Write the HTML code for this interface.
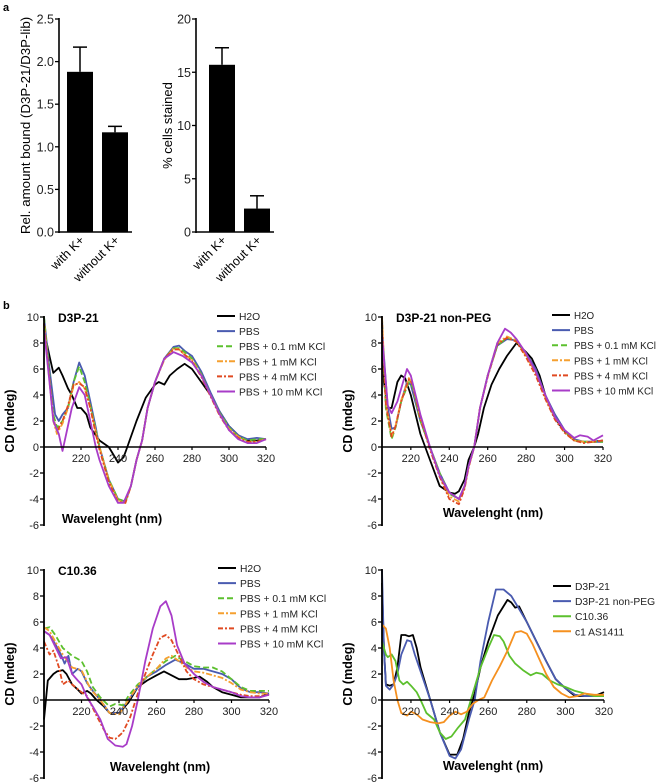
<!DOCTYPE html>
<html><head><meta charset="utf-8"><style>
body{margin:0;background:#fff;}
svg{display:block;font-family:"Liberation Sans",Arial,sans-serif;}
</style></head><body>
<svg id="fig" width="658" height="783" viewBox="0 0 658 783"></svg>
<script>
// ---------- bar chart data ----------
const barCats = ["with K+","without K+"];
const bar1Vals = [1.88, 1.17];
const bar1Errs = [0.29, 0.07];
const bar1Ticks = ["0.0","0.5","1.0","1.5","2.0","2.5"];
const bar2Vals = [15.7, 2.2];
const bar2Errs = [1.6, 1.2];
const bar2Ticks = ["0","5","10","15","20"];
const cdTicksY = [-6,-4,-2,0,2,4,6,8,10];
const cdTicksX = [220,240,260,280,300,320];

// ---------- CD panel 1 (D3P-21) ----------
const p1H2O=[[200,9],[203,7],[205,5.7],[208,6.1],[210,5.5],[213,4.5],[215,4],[218,3],[220,3],[223,2.5],[225,1.5],[230,0.5],[235,0],[238,-0.7],[240,-1.2],[243,-0.8],[245,0],[250,2],[255,3.8],[260,4.8],[262,5],[265,4.8],[268,5.5],[272,6],[276,6.4],[280,6],[285,5],[290,4],[295,2.7],[300,1.6],[305,0.9],[310,0.5],[315,0.5],[320,0.6]];
const p1PBS=[[200,10],[203,6],[206,2.5],[208,2],[210,2.5],[213,3],[216,5],[219,6.5],[222,5.5],[225,3.5],[228,1.5],[230,0],[235,-2.5],[240,-4],[244,-4.2],[247,-3],[250,-1],[253,0.5],[256,3],[260,5],[265,6.8],[270,7.7],[273,7.8],[276,7.4],[280,7],[285,5.8],[290,4.2],[295,2.7],[300,1.6],[305,0.9],[310,0.6],[315,0.7],[320,0.6]];
const p1K01=[[200,10],[203,5.5],[205,2.5],[207,1.5],[210,2],[213,3],[216,5],[219,6.2],[222,5],[225,3.2],[228,1.3],[230,0],[235,-2.5],[240,-4],[244,-4.2],[247,-3],[250,-1],[253,0.5],[256,3],[260,5],[265,6.8],[270,7.6],[273,7.6],[276,7.3],[280,6.8],[285,5.6],[290,4],[295,2.6],[300,1.5],[305,0.8],[310,0.5],[315,0.6],[320,0.6]];
const p1K1=[[200,9.5],[203,5],[205,2],[207,1],[210,1.8],[213,3],[216,4.7],[219,5],[222,4.5],[225,3],[228,1.2],[230,0],[235,-2.6],[240,-4.1],[244,-4.3],[247,-3],[250,-1],[253,0.5],[256,3],[260,5],[265,6.7],[270,7.6],[273,7.5],[276,7.1],[280,6.7],[285,5.5],[290,4],[295,2.5],[300,1.4],[305,0.8],[310,0.4],[315,0.4],[320,0.6]];
const p1K4=[[200,9.5],[203,5.2],[205,2.2],[207,1.2],[210,2],[213,3.2],[216,4.8],[219,4.9],[222,4.6],[225,3],[228,1],[230,-0.2],[235,-2.7],[240,-4.2],[244,-4.3],[247,-3],[250,-1],[253,0.5],[256,3],[260,5],[265,6.8],[270,7.5],[273,7.5],[276,7.1],[280,6.6],[285,5.4],[290,3.9],[295,2.4],[300,1.3],[305,0.7],[310,0.4],[315,0.4],[320,0.6]];
const p1K10=[[200,9],[203,5],[205,2],[208,1],[210,-0.3],[212,1],[215,3],[219,4.6],[222,4],[225,2],[228,0],[230,-1],[235,-3],[240,-4.3],[243,-4.3],[247,-3],[250,-1],[253,0.5],[256,3],[260,5],[265,6.8],[270,7.3],[275,7],[280,6.5],[285,5.5],[290,4],[295,2.5],[300,1.3],[305,0.6],[310,0.3],[315,0.3],[320,0.6]];

// ---------- CD panel 2 (D3P-21 non-PEG) ----------
const p2H2O=[[205,10],[206,5],[208,3],[210,3],[213,5],[215,5.5],[217,5.3],[220,4],[225,1],[230,-1],[235,-3],[240,-3.5],[243,-3.6],[245,-3.4],[248,-2.5],[250,-1],[253,0],[255,1],[258,3],[262,4.8],[266,6],[270,7],[275,8],[280,7.3],[283,6.8],[287,5.5],[290,4],[295,2.2],[300,1.2],[305,0.5],[310,0.4],[315,0.4],[320,0.5]];
const p2PBS=[[205,9],[208,3],[210,1.4],[212,1.5],[215,3.5],[218,5],[220,4.8],[225,2],[230,0],[235,-2],[240,-3.5],[245,-4],[248,-3],[250,-1.5],[253,0],[256,3],[260,5.5],[265,7.8],[270,8.3],[275,8.2],[280,7.2],[285,6],[290,4],[295,2.5],[300,1.3],[305,0.6],[310,0.4],[315,0.4],[320,0.4]];
const p2K01=[[205,9.5],[207,3],[210,0.6],[212,1.5],[215,3.5],[219,5],[221,4.6],[225,2],[230,0],[235,-2],[240,-3.6],[245,-4],[248,-3],[250,-1.5],[253,0],[256,3],[260,5.5],[265,7.8],[270,8.4],[275,8.2],[280,7.1],[285,5.8],[290,3.9],[295,2.3],[300,1.2],[305,0.5],[310,0.4],[315,0.4],[320,0.4]];
const p2K1=[[205,10],[207,3.5],[210,0.8],[212,1.6],[215,3.6],[219,5.3],[221,4.8],[225,2.2],[230,0],[235,-2.2],[240,-3.8],[245,-4.2],[248,-3.1],[250,-1.6],[253,0],[256,3],[260,5.5],[265,8],[270,8.5],[275,8.2],[280,7],[285,5.7],[290,3.8],[295,2.2],[300,1.1],[305,0.5],[310,0.4],[315,0.4],[320,0.5]];
const p2K4=[[205,9.5],[207,3.3],[210,0.8],[212,1.6],[215,3.5],[219,5.2],[221,4.8],[225,2.2],[230,-0.2],[235,-2.3],[240,-4],[245,-4.4],[248,-3.2],[250,-1.6],[253,0],[256,3],[260,5.4],[265,7.9],[270,8.4],[275,8.1],[280,6.9],[285,5.5],[290,3.7],[295,2.1],[300,1.1],[305,0.5],[310,0.3],[315,0.4],[320,0.5]];
const p2K10=[[205,8.5],[208,3.2],[210,2.6],[213,3.5],[216,5],[218,6],[220,5.5],[225,2.5],[230,0],[235,-2.2],[240,-3.5],[245,-4],[248,-3],[250,-1.5],[253,0],[256,3],[260,5.5],[265,8],[269,9.1],[272,8.8],[275,8.3],[280,7.2],[285,5.8],[290,4],[295,2.3],[300,1.3],[305,0.7],[308,0.9],[312,0.8],[315,0.5],[320,0.9]];

// ---------- CD panel 3 (C10.36) ----------
const p3H2O=[[200,-1.5],[202,1.5],[205,2],[207,2.2],[210,2.3],[212,2],[215,1.2],[218,0.8],[220,0.5],[223,0.7],[225,0.5],[228,0],[232,-0.5],[235,-1],[240,-1],[245,-0.2],[250,1],[255,1.5],[260,1.9],[264,2.2],[268,1.9],[272,1.6],[276,1.6],[280,1.7],[283,1.8],[287,1.4],[290,1],[295,0.6],[300,0.4],[305,0.2],[310,0.2],[315,0.2],[320,0.5]];
const p3PBS=[[200,5.3],[203,5],[206,4.3],[209,3.5],[211,2.8],[213,3.4],[215,2],[218,2.4],[220,2.2],[223,1.3],[226,0.7],[230,0],[235,-1],[240,-1],[245,0],[250,1],[255,1.8],[260,2.2],[265,2.7],[270,3.1],[275,2.8],[280,2.4],[285,2.4],[290,2.2],[295,2],[300,1.6],[305,0.9],[310,0.6],[315,0.6],[320,0.5]];
const p3K01=[[200,5.5],[203,5.6],[206,5],[210,4],[215,3.4],[220,3],[223,2.2],[226,1],[230,0.2],[235,-0.5],[238,-0.3],[242,-0.4],[245,0.3],[250,1.2],[255,1.8],[260,2.4],[265,3],[270,3.4],[275,3],[280,2.6],[285,2.5],[290,2.5],[295,2.2],[300,1.6],[305,1],[310,0.7],[315,0.7],[320,0.7]];
const p3K1=[[200,5.6],[203,5.3],[206,4.5],[210,3.5],[215,2.5],[220,2.3],[225,0.8],[230,0],[235,-1],[240,-1.1],[245,0],[250,1.1],[255,1.8],[260,2.4],[265,3.2],[268,3.4],[272,3],[276,2.5],[280,2.2],[285,2.1],[290,1.9],[295,1.7],[300,1.3],[305,0.8],[310,0.6],[315,0.5],[320,0.5]];
const p3K4=[[200,4.5],[203,3.5],[205,3.8],[208,2.5],[210,1.2],[213,1.5],[215,1.2],[220,0.6],[223,0.3],[228,-1.2],[232,-2.3],[235,-2.9],[238,-3],[242,-2.5],[246,-1.3],[250,0.5],[254,2],[258,3.5],[262,4.8],[265,5],[268,4.6],[272,3.4],[276,2.2],[280,1.6],[285,1.2],[290,1],[295,0.8],[300,0.6],[305,0.4],[310,0.3],[315,0.3],[320,0.4]];
const p3K10=[[200,5.3],[203,5],[206,4.1],[209,3.2],[212,3.3],[215,2],[218,1.5],[220,1.2],[223,0.2],[226,-0.5],[230,-1.5],[234,-3],[238,-3.5],[242,-3.6],[244,-3.4],[247,-2],[250,0],[254,3],[258,5.5],[262,7.2],[265,7.6],[268,6.5],[271,4.2],[275,2.8],[280,2],[285,1.4],[290,1],[295,0.8],[300,0.6],[305,0.3],[310,0.2],[315,0.2],[320,0.4]];

// ---------- CD panel 4 (comparison) ----------
const p4D3P=[[205,9],[206,4],[207,1.2],[209,1.1],[211,1.2],[213,2.5],[215,5],[217,5],[219,4.9],[221,5],[223,4],[225,2.5],[228,1],[230,0],[235,-2.5],[240,-4.2],[244,-4.2],[247,-3],[250,-1],[253,0.5],[256,2.5],[260,4.5],[265,6.5],[270,7.7],[272,7.5],[274,7.1],[276,7.2],[280,6],[285,4.5],[290,3],[295,1.6],[300,0.9],[305,0.3],[310,0.3],[315,0.3],[320,0.6]];
const p4NonPEG=[[205,10],[206,4],[207,1.1],[209,0.8],[211,1.2],[213,2],[215,3.5],[218,4.6],[220,4.5],[222,3.5],[225,2.2],[230,0],[235,-2.5],[240,-4.3],[243,-4.5],[246,-3.8],[250,-1.5],[253,0],[256,3],[260,6],[264,8.5],[268,8.5],[272,8],[276,7],[280,6],[285,4.5],[290,3],[295,1.6],[300,0.9],[305,0.4],[310,0.3],[315,0.3],[320,0.3]];
const p4C1036=[[205,4.5],[207,3.5],[208,3.3],[210,3.5],[212,3],[214,1.5],[216,1.2],[218,1.4],[220,1.1],[223,0.6],[225,0],[228,-1],[232,-1.5],[235,-2.5],[238,-3],[241,-2.8],[244,-2.2],[248,-1.5],[250,-0.5],[253,1],[256,2.5],[260,4],[263,5],[266,4.9],[268,4.5],[271,3.4],[274,2.8],[278,2.3],[282,1.9],[285,2.1],[288,2],[292,1.5],[296,1.2],[300,1],[305,0.7],[310,0.5],[315,0.3],[320,0.3]];
const p4AS1411=[[205,5.8],[207,5.5],[209,4],[211,1.5],[213,0],[215,-1],[218,-1.2],[220,-0.9],[223,-1.1],[226,-1.5],[230,-1.7],[234,-1.8],[237,-1.7],[240,-1.2],[243,-0.9],[246,-1.1],[249,-0.9],[252,-0.3],[255,0],[258,0.2],[262,1.5],[266,2.6],[270,3.8],[274,5.2],[277,5.3],[280,5.1],[283,4.3],[286,3.3],[290,2],[294,1],[298,0.5],[302,0.2],[306,0.3],[310,0.5],[315,0.4],[320,0.4]];

const NS="http://www.w3.org/2000/svg";
const svg=document.getElementById('fig');
function mk(tag,attrs,parent,txt){const e=document.createElementNS(NS,tag);for(const k in attrs)e.setAttribute(k,attrs[k]);if(txt!==undefined)e.textContent=txt;(parent||svg).appendChild(e);return e;}

let t=mk('text',{x:3,y:11,'font-size':11,'font-weight':'bold'},svg,'a');


t=mk('text',{x:3,y:309,'font-size':11,'font-weight':'bold'},svg,'b');



function barChart(name,axX,barXs,vals,errs,ticks,ymax,title,titleX,titleSize){
  const g=mk('g',{});
  
  
  const y0=232,yTop=19;
  const ys=v=>y0-(v/ymax)*(y0-yTop);
  ticks.forEach((tk,i)=>{const v=ymax*i/(ticks.length-1);const y=ys(v);
    mk('line',{x1:axX-4,x2:axX,y1:y,y2:y,stroke:'#000','stroke-width':1.3},g);
    const tt=mk('text',{x:axX-5,y:y+4.5,'font-size':12.5,'text-anchor':'end',fill:'#222'},g,tk);
    
    
  });
  vals.forEach((v,i)=>{const x=barXs[i];
    const r=mk('rect',{x:x,y:ys(v),width:26,height:y0-ys(v),fill:'#000'},g);
    
    
    const ey=ys(v+errs[i]);
    mk('line',{x1:x+13,x2:x+13,y1:ys(v),y2:ey,stroke:'#000','stroke-width':1.5},g);
    mk('line',{x1:x+6,x2:x+20,y1:ey,y2:ey,stroke:'#000','stroke-width':1.5},g);
    const lt=mk('text',{'font-size':12.5,'text-anchor':'end',transform:`translate(${x+18},${y0+9}) rotate(-45)`},g,barCats[i]);
    
    
  });
  mk('line',{x1:axX,x2:axX,y1:yTop-1,y2:y0+1,stroke:'#000','stroke-width':1.6},g);
  mk('line',{x1:axX,x2:barXs[1]+30,y1:y0,y2:y0,stroke:'#000','stroke-width':1.6},g);
  const yt=mk('text',{'font-size':titleSize,'text-anchor':'middle',transform:`translate(${titleX},${(y0+yTop)/2}) rotate(-90)`},g,title);
  
  
}
barChart('bar-chart-bound',59,[67,102],bar1Vals,bar1Errs,bar1Ticks,2.5,'Rel. amount bound (D3P-21/D3P-lib)',30,13.3);
barChart('bar-chart-stained',196,[209,244],bar2Vals,bar2Errs,bar2Ticks,20,'% cells stained',172,13);

const sty={
 H2O:{c:'#000',d:''},PBS:{c:'#4a5bb0',d:''},K01:{c:'#5cc02e',d:'6,3'},K1:{c:'#f5a030',d:'6,2,2,2'},K4:{c:'#e04a22',d:'5,2,2,2'},K10:{c:'#a83cc8',d:''},
 D3P:{c:'#000',d:''},NonPEG:{c:'#4a5bb0',d:''},C1036:{c:'#5cc02e',d:''},AS1411:{c:'#f5901f',d:''}
};
function cdPanel(name,o){
  const g=mk('g',{});
  
  
  const xs=w=>o.x0+(w-o.w0)*(o.x1-o.x0)/(320-o.w0);
  const ys=v=>o.y0-v*13;
  o.series.forEach(s=>{const st=sty[s.k];
    const p=mk('path',{d:s.data.map((pt,i)=>(i?'L':'M')+xs(pt[0]).toFixed(1)+','+ys(pt[1]).toFixed(1)).join(''),fill:'none',stroke:st.c,'stroke-width':1.8,'stroke-dasharray':st.d,'stroke-linejoin':'round'},g);
    
    
  });
  mk('line',{x1:o.x0,x2:o.x0,y1:ys(10)-1,y2:ys(-6)+1,stroke:'#000','stroke-width':1.8},g);
  mk('line',{x1:o.x0,x2:xs(320),y1:o.y0,y2:o.y0,stroke:'#000','stroke-width':1.5},g);
  cdTicksY.forEach(v=>{const y=ys(v);
    mk('line',{x1:o.x0-4,x2:o.x0,y1:y,y2:y,stroke:'#000','stroke-width':1.3},g);
    const tt=mk('text',{x:o.x0-5,y:y+4,'font-size':11,'text-anchor':'end',fill:'#222'},g,String(v));
    
    
  });
  cdTicksX.forEach(w=>{const x=xs(w);
    mk('line',{x1:x,x2:x,y1:o.y0,y2:o.y0+3,stroke:'#000','stroke-width':1.2},g);
    const tt=mk('text',{x:x,y:o.y0+15,'font-size':11,'text-anchor':'middle',fill:'#222'},g,String(w));
    
    
  });
  if(o.title){const tt=mk('text',{x:o.x0+14,y:ys(10)+5,'font-size':12,'font-weight':'bold'},g,o.title);
    
    }
  const xt=mk('text',{x:o.xtx,y:o.xty,'font-size':12.5,'font-weight':'bold','text-anchor':'middle'},g,'Wavelenght (nm)');
  
  
  const yt=mk('text',{'font-size':12.5,'font-weight':'bold','text-anchor':'middle',transform:`translate(${o.x0-30},${ys(2)}) rotate(-90)`},g,'CD (mdeg)');
  
  
  o.series.forEach((s,i)=>{const st=sty[s.k];const y=o.ly+i*15.1;
    const lg=mk('g',{},g);
    
    
    mk('line',{x1:o.lx,x2:o.lx+18,y1:y,y2:y,stroke:st.c,'stroke-width':2,'stroke-dasharray':st.d},lg);
    mk('text',{x:o.lx+22,y:y+4,'font-size':o.lfs,fill:'#222'},lg,s.label);
  });
}
const kLabels=['H2O','PBS','PBS + 0.1 mM KCl','PBS + 1 mM KCl','PBS + 4 mM KCl','PBS + 10 mM KCl'];
const kKeys=['H2O','PBS','K01','K1','K4','K10'];
cdPanel('cd-chart-d3p21',{x0:44,x1:266,w0:200,y0:447,title:'D3P-21',xtx:112,xty:523,lx:217,ly:316,lfs:10.3,
 series:[p1H2O,p1PBS,p1K01,p1K1,p1K4,p1K10].map((d,i)=>({k:kKeys[i],label:kLabels[i],data:d}))});
cdPanel('cd-chart-d3p21-nonpeg',{x0:382,x1:603,w0:205,y0:447,title:'D3P-21 non-PEG',xtx:493,xty:517,lx:552,ly:315,lfs:9.8,
 series:[p2H2O,p2PBS,p2K01,p2K1,p2K4,p2K10].map((d,i)=>({k:kKeys[i],label:kLabels[i],data:d}))});
cdPanel('cd-chart-c1036',{x0:44,x1:269,w0:200,y0:700,title:'C10.36',xtx:160,xty:771,lx:218,ly:568,lfs:10.3,
 series:[p3H2O,p3PBS,p3K01,p3K1,p3K4,p3K10].map((d,i)=>({k:kKeys[i],label:kLabels[i],data:d}))});
cdPanel('cd-chart-comparison',{x0:382,x1:604,w0:205,y0:700,title:'',xtx:493,xty:770,lx:553,ly:586,lfs:10.3,
 series:[{k:'D3P',label:'D3P-21',data:p4D3P},{k:'NonPEG',label:'D3P-21 non-PEG',data:p4NonPEG},{k:'C1036',label:'C10.36',data:p4C1036},{k:'AS1411',label:'c1 AS1411',data:p4AS1411}]});
</script>
</body></html>
